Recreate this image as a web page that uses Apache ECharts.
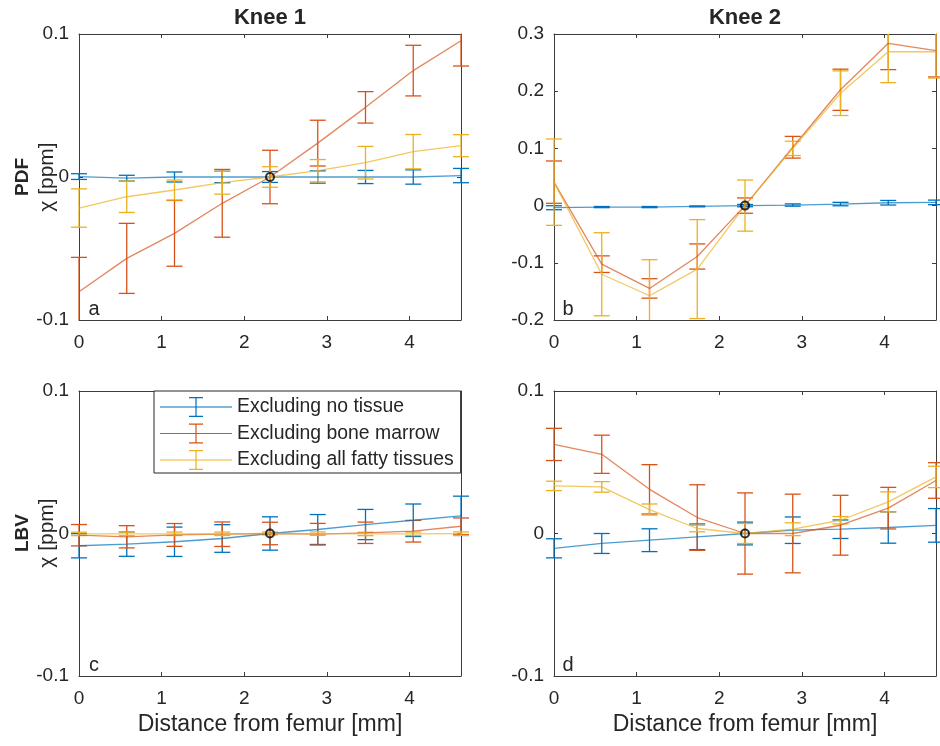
<!DOCTYPE html>
<html lang="en">
<head>
<meta charset="UTF-8">
<title>Knee susceptibility profiles</title>
<script src="https://cdn.jsdelivr.net/npm/echarts@6/dist/echarts.min.js"></script>
<style>html,body{margin:0;padding:0;background:#fff;}</style>
</head>
<body>
<div id="main" style="width:940px;height:746px;"></div>
<script type="text/javascript">
// distance from femur [mm], one sample per voxel
var dist = [0, 0.578, 1.156, 1.734, 2.312, 2.89, 3.468, 4.046, 4.624];
// reference point (all curves are zeroed here)
var refPoint = [[2.312, 0]];
var seriesNames = ['Excluding no tissue', 'Excluding bone marrow', 'Excluding all fatty tissues'];
var colors = ['#0072BD', '#D95319', '#EDB120'];

// a: Knee 1, PDF
var aNoTissue = [0.0003, -0.0008, 0, 0, 0, 0, 0, 0, 0.001];
var aNoTissueErr = [0.002, 0.002, 0.0035, 0.004, 0.0038, 0.0043, 0.0046, 0.005, 0.005];
var aMarrow = [-0.0802, -0.0569, -0.0394, -0.0184, 0, 0.0237, 0.0487, 0.0744, 0.0953];
var aMarrowErr = [0.024, 0.0245, 0.023, 0.0237, 0.0187, 0.016, 0.011, 0.0177, 0.0177];
var aFat = [-0.0217, -0.0138, -0.0091, -0.004, 0, 0.0044, 0.01, 0.0177, 0.0219];
var aFatErr = [0.0134, 0.011, 0.007, 0.008, 0.0072, 0.0078, 0.0114, 0.012, 0.0077];

// b: Knee 2, PDF
var bNoTissue = [-0.0037, -0.0026, -0.0026, -0.0014, 0, 0.001, 0.0027, 0.005, 0.0056];
var bNoTissueErr = [0.0035, 0.001, 0.001, 0.0008, 0.002, 0.002, 0.003, 0.004, 0.004];
var bMarrow = [0.041, -0.1024, -0.1448, -0.089, 0, 0.102, 0.2025, 0.2837, 0.2709];
var bMarrowErr = [0.037, 0.0145, 0.017, 0.022, 0.0134, 0.019, 0.036, 0.046, 0.046];
var bFat = [0.041, -0.12, -0.1576, -0.111, 0, 0.1, 0.1965, 0.269, 0.269];
var bFatErr = [0.0755, 0.0726, 0.063, 0.0865, 0.0447, 0.0125, 0.039, 0.054, 0.046];

// c: Knee 1, LBV
var cNoTissue = [-0.0086, -0.0075, -0.0058, -0.0035, 0, 0.0028, 0.0063, 0.0093, 0.0124];
var cNoTissueErr = [0.0085, 0.0085, 0.0103, 0.0097, 0.0117, 0.0105, 0.0106, 0.0114, 0.0138];
var cMarrow = [-0.0012, -0.0023, -0.001, -0.0005, 0, -0.0005, 0.0005, 0.0016, 0.0051];
var cMarrowErr = [0.0075, 0.0078, 0.008, 0.0086, 0.0079, 0.0076, 0.0075, 0.0076, 0.0058];
var cFat = [-0.0003, -0.0003, -0.0002, -0.0002, 0, -0.0001, -0.0003, -0.0002, -0.0001];
var cFatErr = [0.0012, 0.0012, 0.0012, 0.0012, 0.001, 0.0012, 0.0012, 0.0012, 0.0012];

// d: Knee 2, LBV
var dNoTissue = [-0.0104, -0.007, -0.0047, -0.0023, 0, 0.0023, 0.003, 0.0042, 0.0057];
var dNoTissueErr = [0.0067, 0.007, 0.008, 0.009, 0.008, 0.0093, 0.0065, 0.011, 0.0118];
var dMarrow = [0.0625, 0.0556, 0.031, 0.0112, 0, 0, 0.0058, 0.0178, 0.0372];
var dMarrowErr = [0.0113, 0.0134, 0.0173, 0.023, 0.0285, 0.0276, 0.021, 0.0146, 0.0125];
var dFat = [0.0334, 0.0327, 0.0168, 0.0035, 0, 0.003, 0.0093, 0.0222, 0.0397];
var dFatErr = [0.0033, 0.0037, 0.0039, 0.0023, 0.007, 0.0045, 0.0026, 0.007, 0.0075];

var yTicksTop1 = {min: -0.1, max: 0.1};
var yTicksTop2 = {min: -0.2, max: 0.3};
var yTicksBottom = {min: -0.1, max: 0.1};

var font = "'Liberation Sans', Arial, Helvetica, sans-serif";
var textColor = '#262626';
var axisColor = '#3c3c3c';

var panels = [
  {mean: [aNoTissue, aMarrow, aFat], err: [aNoTissueErr, aMarrowErr, aFatErr], y: yTicksTop1,
   grid: {left: 79, top: 34, width: 382, height: 286}, xName: ''},
  {mean: [bNoTissue, bMarrow, bFat], err: [bNoTissueErr, bMarrowErr, bFatErr], y: yTicksTop2,
   grid: {left: 554, top: 34, width: 382, height: 286}, xName: ''},
  {mean: [cNoTissue, cMarrow, cFat], err: [cNoTissueErr, cMarrowErr, cFatErr], y: yTicksBottom,
   grid: {left: 79, top: 391, width: 382, height: 285}, xName: 'Distance from femur [mm]'},
  {mean: [dNoTissue, dMarrow, dFat], err: [dNoTissueErr, dMarrowErr, dFatErr], y: yTicksBottom,
   grid: {left: 554, top: 391, width: 382, height: 285}, xName: 'Distance from femur [mm]'}
];

// vertical bar + caps, clipped to the plot box vertically (like matlab)
function errorBar(color) {
  return function (params, api) {
    var x = api.value(0);
    var lo = api.coord([x, api.value(1)]);
    var hi = api.coord([x, api.value(2)]);
    var box = params.coordSys;
    var top = box.y, bottom = box.y + box.height;
    var y1 = Math.max(hi[1], top), y2 = Math.min(lo[1], bottom);
    var st = {stroke: color, lineWidth: 1.3};
    var w = 8;
    var kids = [];
    if (y1 < y2) kids.push({type: 'line', shape: {x1: hi[0], y1: y1, x2: hi[0], y2: y2}, style: st});
    if (hi[1] >= top - 0.5) kids.push({type: 'line', shape: {x1: hi[0] - w, y1: hi[1], x2: hi[0] + w, y2: hi[1]}, style: st});
    if (lo[1] <= bottom + 0.5) kids.push({type: 'line', shape: {x1: lo[0] - w, y1: lo[1], x2: lo[0] + w, y2: lo[1]}, style: st});
    return {type: 'group', children: kids};
  };
}

var grids = [], xAxes = [], yAxes = [], series = [];
panels.forEach(function (p, g) {
  grids.push(p.grid);
  var lineSt = {color: axisColor, width: 1};
  // bottom + top x axes (box on)
  xAxes.push({
    type: 'value', gridIndex: g, position: 'bottom', min: 0, max: 4.624, interval: 1,
    axisLine: {show: true, onZero: false, lineStyle: lineSt},
    axisTick: {show: true, inside: true, length: 4, lineStyle: lineSt},
    axisLabel: {show: true, margin: 13, color: textColor, fontSize: 19, fontFamily: font, showMaxLabel: false},
    splitLine: {show: false},
    name: p.xName, nameLocation: 'middle', nameGap: 37,
    nameTextStyle: {color: textColor, fontSize: 23, fontFamily: font}
  });
  xAxes.push({
    type: 'value', gridIndex: g, position: 'top', min: 0, max: 4.624, interval: 1,
    axisLine: {show: true, onZero: false, lineStyle: lineSt},
    axisTick: {show: true, inside: true, length: 4, lineStyle: lineSt},
    axisLabel: {show: false}, splitLine: {show: false}
  });
  yAxes.push({
    type: 'value', gridIndex: g, position: 'left', min: p.y.min, max: p.y.max, interval: 0.1,
    axisLine: {show: true, onZero: false, lineStyle: lineSt},
    axisTick: {show: true, inside: true, length: 4, lineStyle: lineSt},
    axisLabel: {show: true, margin: 10, color: textColor, fontSize: 19, fontFamily: font},
    splitLine: {show: false}
  });
  yAxes.push({
    type: 'value', gridIndex: g, position: 'right', min: p.y.min, max: p.y.max, interval: 0.1,
    axisLine: {show: true, onZero: false, lineStyle: lineSt},
    axisTick: {show: true, inside: true, length: 4, lineStyle: lineSt},
    axisLabel: {show: false}, splitLine: {show: false}
  });

  for (var k = 0; k < 3; k++) {
    var mean = p.mean[k], err = p.err[k];
    series.push({
      type: 'line', name: seriesNames[k], xAxisIndex: 2 * g, yAxisIndex: 2 * g,
      data: dist.map(function (x, i) { return [x, mean[i]]; }),
      symbol: 'none', showSymbol: false, silent: true, animation: false,
      color: colors[k],
      lineStyle: {color: colors[k], width: 1.3, opacity: 0.7}
    });
    series.push({
      type: 'custom', name: seriesNames[k] + ' SD', xAxisIndex: 2 * g, yAxisIndex: 2 * g,
      data: dist.map(function (x, i) { return [x, mean[i] - err[i], mean[i] + err[i]]; }),
      renderItem: errorBar(colors[k]), silent: true, animation: false
    });
  }
  series.push({
    type: 'scatter', xAxisIndex: 2 * g, yAxisIndex: 2 * g, data: refPoint,
    symbol: 'circle', symbolSize: 8, silent: true, animation: false, z: 5,
    itemStyle: {color: 'rgba(0,0,0,0)', borderColor: '#000', borderWidth: 2}
  });
});

function label(text, x, y, size, bold, rot) {
  return {
    type: 'text', x: x, y: y, rotation: rot || 0, silent: true,
    style: {text: text, fill: textColor, font: (bold ? 'bold ' : '') + size + 'px ' + font,
            align: 'center', verticalAlign: 'middle'}
  };
}

var myChart = echarts.init(document.getElementById('main'));
myChart.setOption({
  backgroundColor: '#fff',
  animation: false,
  grid: grids,
  xAxis: xAxes,
  yAxis: yAxes,
  legend: {
    data: seriesNames, orient: 'vertical', left: 154, top: 391,
    padding: [6, 7, 3, 6], itemGap: 6.5, itemWidth: 72, itemHeight: 20,
    icon: 'path://M0,9.4H72V10.6H0Z M35.4,0H36.6V20H35.4Z M29,0H43V1.2H29Z M29,18.8H43V20H29Z',
    backgroundColor: '#fff', borderColor: '#262626', borderWidth: 1,
    textStyle: {fontSize: 19.4, color: textColor, fontFamily: font},
    selectedMode: false
  },
  graphic: [
    label('Knee 1', 270, 18, 22, true),
    label('Knee 2', 745, 18, 22, true),
    label('PDF', 23, 177, 19, true, Math.PI / 2),
    label('χ [ppm]', 47, 177, 21, false, Math.PI / 2),
    label('LBV', 23, 533, 19, true, Math.PI / 2),
    label('χ [ppm]', 47, 533, 21, false, Math.PI / 2),
    label('a', 94, 309, 20, false),
    label('b', 568, 309, 20, false),
    label('c', 94, 665, 20, false),
    label('d', 568, 665, 20, false)
  ],
  series: series
});
</script>
</body>
</html>
